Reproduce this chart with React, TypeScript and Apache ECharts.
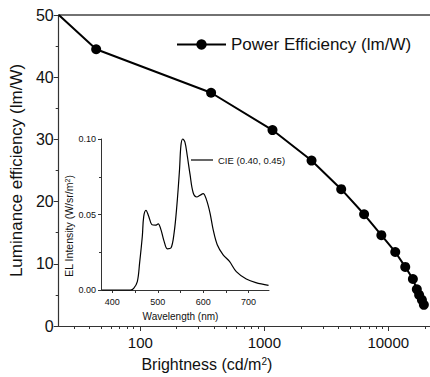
import React, { useEffect, useRef } from "react";
import * as echarts from "echarts";

// Main chart: power efficiency vs brightness (log x)
const brightness = [22, 44, 372, 1164, 2404, 4170, 6380, 8790, 11380, 13700, 15790, 16990, 17740, 18680, 19360];
const powerEfficiency = [50, 44.5, 37.5, 31.5, 26.6, 22.0, 17.96, 14.6, 11.9, 9.5, 7.56, 5.9, 5.0, 4.2, 3.4];
const xMajorTicks = [100, 1000, 10000];
const xMinorMultipliers = [2, 3, 4, 5, 6, 7, 8, 9];
const xDecades = [10, 100, 1000, 10000];
const yTicks = [0, 10, 20, 30, 40, 50];

// Inset: EL spectrum
const wavelength = [377, 386, 440, 447, 455, 460, 466, 469, 474, 480, 487, 495, 501, 507, 514, 521, 529, 536, 542, 548, 551, 555, 560, 565, 571, 578, 586, 593, 600, 607, 615, 622, 631, 644, 658, 673, 695, 716, 744];
const elIntensity = [0, 0, 0, 0.0011, 0.0056, 0.0178, 0.0356, 0.0484, 0.0527, 0.0489, 0.0433, 0.0429, 0.0438, 0.04, 0.0322, 0.0273, 0.0278, 0.0378, 0.0556, 0.08, 0.0956, 0.1, 0.0978, 0.0889, 0.0767, 0.0644, 0.0616, 0.0627, 0.0638, 0.06, 0.0511, 0.04, 0.03, 0.0233, 0.0189, 0.0122, 0.0073, 0.0049, 0.0031];
const insetXLabels = [400, 500, 600, 700];
const insetXTicks = [400, 450, 500, 550, 600, 650, 700];
const insetYLabels = [0, 0.05, 0.1];

const mainName = "Power Efficiency (lm/W)";
const insetName = "CIE (0.40, 0.45)";

const FONT = 'Arial, "Liberation Sans", sans-serif';
const INK = "#111";

export default function App() {
  const ref = useRef<HTMLDivElement>(null);
  useEffect(() => {
    if (!ref.current) return;
    const chart = echarts.init(ref.current, undefined, { renderer: "svg" });
    const xMin = Math.log10(21.94);
    const xMax = Math.log10(21700);
    const minorTicks: number[] = [];
    xDecades.forEach((d) =>
      xMinorMultipliers.forEach((m) => {
        const v = Math.log10(d * m);
        if (v > xMin && v < xMax) minorTicks.push(v);
      })
    );
    const supRich = {
      sup: { fontSize: 10, verticalAlign: "top" as const, fontFamily: FONT, color: INK },
    };
    const option: any = {
      animation: false,
      backgroundColor: "#fff",
      textStyle: { fontFamily: FONT, color: INK },
      grid: [
        { left: 57, top: 15, right: 0, bottom: 51 },
        { left: 57, top: 15, right: 0, bottom: 51 },
        { left: 101, top: 139, width: 168, height: 151 },
      ],
      legend: [
        {
          data: [mainName],
          left: 176,
          top: 36,
          padding: 0,
          itemWidth: 49,
          itemHeight: 13,
          selectedMode: false,
          textStyle: { fontSize: 17, color: INK, fontFamily: FONT },
        },
        {
          data: [{ name: insetName, icon: "rect" }],
          left: 191,
          top: 155,
          padding: 0,
          itemWidth: 22,
          itemHeight: 1.2,
          selectedMode: false,
          textStyle: { fontSize: 9.5, color: INK, fontFamily: FONT },
        },
      ],
      xAxis: [
        {
          gridIndex: 0,
          type: "value",
          position: "bottom",
          min: xMin,
          max: xMax,
          axisLine: { show: true, onZero: false, lineStyle: { color: "#333", width: 1.2 } },
          axisTick: { show: true, length: 5, customValues: xMajorTicks.map((v) => Math.log10(v)), lineStyle: { color: "#333" } },
          axisLabel: {
            customValues: xMajorTicks.map((v) => Math.log10(v)),
            formatter: (v: number) => String(Math.round(Math.pow(10, v))),
            fontSize: 15,
            color: INK,
            margin: 9,
          },
          splitLine: { show: false },
          name: "Brightness (cd/m{sup|2})",
          nameLocation: "middle",
          nameGap: 30,
          nameTextStyle: { fontSize: 16, color: INK, fontFamily: FONT, padding: [0, 75, 0, 0], rich: supRich },
        },
        {
          gridIndex: 0,
          type: "value",
          position: "top",
          min: xMin,
          max: xMax,
          axisLine: { show: true, onZero: false, lineStyle: { color: "#444", width: 1.5 } },
          axisTick: { show: false },
          axisLabel: { show: false },
          splitLine: { show: false },
        },
        {
          gridIndex: 1,
          type: "value",
          position: "bottom",
          min: xMin,
          max: xMax,
          axisLine: { show: false, onZero: false },
          axisTick: { show: true, length: 3, customValues: minorTicks, lineStyle: { color: "#333" } },
          axisLabel: { show: false },
          splitLine: { show: false },
        },
        {
          gridIndex: 2,
          type: "value",
          min: 375,
          max: 745,
          axisLine: { show: true, onZero: false, lineStyle: { color: "#333", width: 1 } },
          axisTick: { show: true, length: 3, customValues: insetXTicks, lineStyle: { color: "#333" } },
          axisLabel: { customValues: insetXLabels, fontSize: 9, color: INK, margin: 7 },
          splitLine: { show: false },
          name: "Wavelength (nm)",
          nameLocation: "middle",
          nameGap: 21,
          nameTextStyle: { fontSize: 10, color: INK, fontFamily: FONT, padding: [0, 9, 0, 0] },
        },
      ],
      yAxis: [
        {
          gridIndex: 0,
          type: "value",
          min: 0,
          max: 50,
          interval: 10,
          axisLine: { show: true, lineStyle: { color: "#333", width: 1.2 } },
          axisTick: { show: true, length: 5, lineStyle: { color: "#333" } },
          minorTick: { show: true, splitNumber: 2, length: 3, lineStyle: { color: "#333" } },
          axisLabel: { fontSize: 16, color: INK, margin: 5, customValues: yTicks },
          splitLine: { show: false },
          name: "Luminance efficiency (lm/W)",
          nameLocation: "middle",
          nameGap: 32,
          nameTextStyle: { fontSize: 17, color: INK, fontFamily: FONT },
        },
        {
          gridIndex: 1,
          type: "value",
          min: 0,
          max: 50,
          show: false,
        },
        {
          gridIndex: 2,
          type: "value",
          min: 0,
          max: 0.1,
          interval: 0.05,
          axisLine: { show: true, lineStyle: { color: "#333", width: 1 } },
          axisTick: { show: true, length: 3, lineStyle: { color: "#333" } },
          minorTick: { show: true, splitNumber: 2, length: 2, lineStyle: { color: "#333" } },
          axisLabel: {
            customValues: insetYLabels,
            formatter: (v: number) => v.toFixed(2),
            fontSize: 9,
            color: INK,
            margin: 5,
          },
          splitLine: { show: false },
          name: "EL Intensity (W/sr/m{sup|2})",
          nameLocation: "middle",
          nameGap: 22,
          nameTextStyle: {
            fontSize: 10.5,
            color: INK,
            fontFamily: FONT,
            padding: [0, 23, 0, 0],
            rich: { sup: { fontSize: 7, verticalAlign: "top", fontFamily: FONT, color: INK } },
          },
        },
      ],
      series: [
        {
          name: mainName,
          type: "line",
          xAxisIndex: 0,
          yAxisIndex: 0,
          symbol: "circle",
          symbolSize: 10,
          itemStyle: { color: "#000" },
          lineStyle: { color: "#000", width: 2 },
          data: brightness.map((b, i) =>
            i === 0
              ? { value: [Math.log10(b), powerEfficiency[i]], symbol: "none" }
              : [Math.log10(b), powerEfficiency[i]]
          ),
        },
        {
          name: insetName,
          type: "line",
          xAxisIndex: 3,
          yAxisIndex: 2,
          showSymbol: false,
          symbol: "none",
          smooth: 0.35,
          clip: false,
          itemStyle: { color: "#000" },
          lineStyle: { color: "#000", width: 1.2 },
          data: wavelength.map((w, i) => [w, elIntensity[i]]),
        },
      ],
    };
    chart.setOption(option);
    return () => chart.dispose();
  }, []);
  return (
    <div style={{ position: "absolute", left: 0, top: 0, width: 430, height: 377, background: "#fff", overflow: "hidden" }}>
      <div ref={ref} style={{ width: 430, height: 377 }} />
    </div>
  );
}
